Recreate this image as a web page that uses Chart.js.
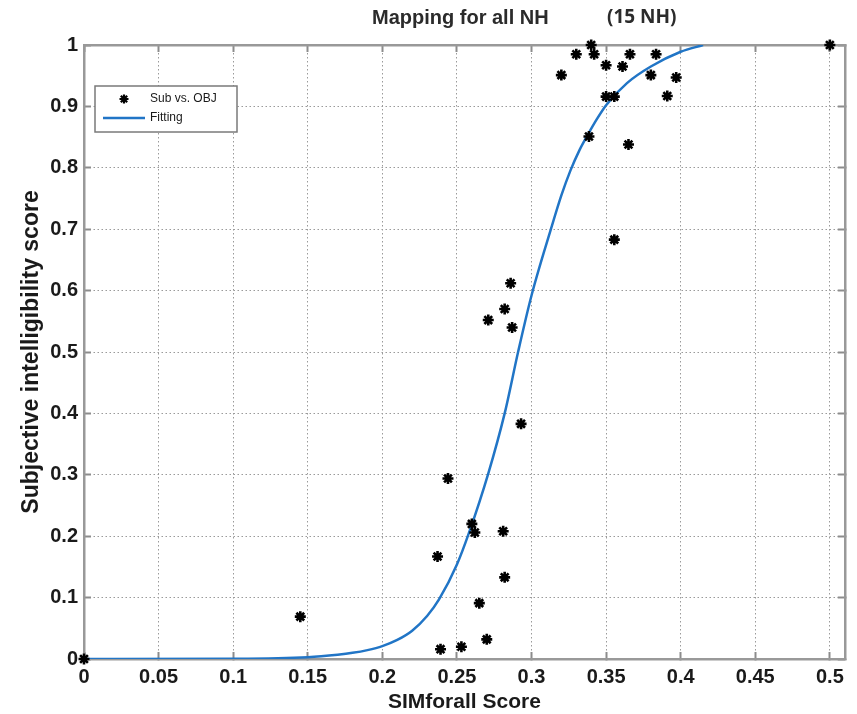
<!DOCTYPE html>
<html lang="en">
<head>
<meta charset="UTF-8">
<title>Mapping for all NH</title>
<script src="https://cdn.jsdelivr.net/npm/chart.js"></script>
<style>
  html, body { margin: 0; padding: 0; background: #fff; }
  #wrap { width: 857px; height: 714px; }
</style>
</head>
<body>
<div id="wrap"><canvas id="mapChart" width="857" height="714"></canvas></div>
<script>
// measured points (SIMforall score vs subjective score)
const subX = [0, 0.145, 0.237, 0.239, 0.244, 0.253, 0.260, 0.262, 0.265, 0.270, 0.271,
              0.281, 0.282, 0.282, 0.286, 0.287, 0.293, 0.320, 0.330, 0.3385, 0.340,
              0.342, 0.350, 0.350, 0.3555, 0.3555, 0.361, 0.365, 0.366, 0.380, 0.3835,
              0.391, 0.397, 0.5];
const subY = [0, 0.069, 0.167, 0.016, 0.294, 0.020, 0.220, 0.206, 0.091, 0.032, 0.552,
              0.208, 0.133, 0.570, 0.612, 0.540, 0.383, 0.951, 0.985, 0.851, 1.0,
              0.985, 0.967, 0.916, 0.916, 0.683, 0.965, 0.838, 0.985, 0.951, 0.985,
              0.917, 0.947, 1.0];

// fitted curve
const fitX = [0, 0.10, 0.15, 0.17, 0.18, 0.19, 0.20, 0.21, 0.22, 0.23, 0.238, 0.25,
              0.258, 0.271, 0.282, 0.291, 0.300, 0.313, 0.320, 0.326, 0.332, 0.338,
              0.344, 0.350, 0.364, 0.380, 0.400, 0.415];
const fitY = [0, 0.0005, 0.003, 0.007, 0.010, 0.0145, 0.021, 0.031, 0.046, 0.070, 0.097, 0.154,
              0.205, 0.302, 0.400, 0.500, 0.592, 0.700, 0.755, 0.795, 0.828, 0.855,
              0.880, 0.902, 0.938, 0.965, 0.989, 1.0];

const xTicks = [0, 0.05, 0.1, 0.15, 0.2, 0.25, 0.3, 0.35, 0.4, 0.45, 0.5];
const yTicks = [0, 0.1, 0.2, 0.3, 0.4, 0.5, 0.6, 0.7, 0.8, 0.9, 1];

const titleMain = 'Mapping for all NH';
const titleNote = '(15 NH)';

const FONT = "'Liberation Sans', Arial, sans-serif";
const axisGrey = '#999';
const gridGrey = '#9a9a9a';
const textCol = '#1a1a1a';

function setTicks(list) {
    return scale => { scale.ticks = list.map(v => ({ value: v })); };
}

// title in two pieces, like the original figure
const twoPartTitle = {
    id: 'twoPartTitle',
    afterDraw(chart) {
        const { ctx, chartArea } = chart;
        ctx.save();
        ctx.textBaseline = 'middle';
        ctx.textAlign = 'left';
        ctx.fillStyle = '#2b2b2b';
        ctx.font = 'bold 20px ' + FONT;
        ctx.fillText(titleMain, chartArea.left + 288, 18);
        ctx.font = "bold 19px 'Open Sans', sans-serif";
        ctx.fillText(titleNote, chartArea.left + 523, 18);
        ctx.restore();
    }
};

// boxed legend inside the plot, upper left
const boxLegend = {
    id: 'boxLegend',
    afterDraw(chart) {
        const { ctx, chartArea } = chart;
        const sets = chart.data.datasets;
        const x = chartArea.left + 11, y = chartArea.top + 41, w = 142, h = 46;
        ctx.save();
        ctx.fillStyle = '#fff';
        ctx.fillRect(x, y, w, h);
        ctx.strokeStyle = '#7a7a7a';
        ctx.lineWidth = 1.5;
        ctx.strokeRect(x, y, w, h);

        ctx.strokeStyle = sets[0].borderColor;
        ctx.fillStyle = sets[0].borderColor;
        ctx.lineWidth = 2.2;
        Chart.helpers.drawPoint(ctx, { pointStyle: 'star', radius: 4.5, borderWidth: 2.2, rotation: 0 }, x + 29, y + 13);

        ctx.strokeStyle = sets[1].borderColor;
        ctx.lineWidth = 2.5;
        ctx.beginPath();
        ctx.moveTo(x + 8, y + 32);
        ctx.lineTo(x + 50, y + 32);
        ctx.stroke();

        ctx.fillStyle = textCol;
        ctx.font = '12px ' + FONT;
        ctx.textBaseline = 'middle';
        ctx.fillText(sets[0].label, x + 55, y + 13);
        ctx.fillText(sets[1].label, x + 55, y + 32);
        ctx.restore();
    }
};

const tickFont = { family: FONT, size: 20, weight: 'bold' };
const gridOpts = { color: gridGrey, lineWidth: 1, tickLength: -7, tickColor: '#8c8c8c', tickWidth: 2 };
const borderOpts = { display: true, color: axisGrey, width: 2.5, dash: [1.5, 2.5] };

new Chart(document.getElementById('mapChart'), {
    type: 'scatter',
    data: {
        datasets: [
            {
                label: 'Sub vs. OBJ',
                data: subX.map((x, i) => ({ x: x, y: subY[i] })),
                pointStyle: 'star',
                pointRadius: 5.5,
                pointHoverRadius: 5.5,
                pointBorderWidth: 2.6,
                borderColor: '#000',
                backgroundColor: '#000',
                showLine: false,
                clip: false
            },
            {
                label: 'Fitting',
                data: fitX.map((x, i) => ({ x: x, y: fitY[i] })),
                showLine: true,
                borderColor: '#2175c6',
                borderWidth: 2.5,
                pointRadius: 0,
                pointHoverRadius: 0,
                cubicInterpolationMode: 'monotone',
                fill: false
            }
        ]
    },
    options: {
        responsive: false,
        animation: false,
        layout: { padding: { top: 45, left: 0, right: 0, bottom: 0 } },
        plugins: {
            legend: { display: false },
            title: { display: false },
            tooltip: { enabled: false }
        },
        scales: {
            x: {
                type: 'linear',
                position: 'bottom',
                min: 0,
                max: 0.51,
                afterBuildTicks: setTicks(xTicks),
                afterFit: s => { s.height = 55; },
                grid: gridOpts,
                border: borderOpts,
                ticks: {
                    padding: 13, color: textCol, font: tickFont,
                    maxRotation: 0, autoSkip: false,
                    callback: v => String(v)
                },
                title: {
                    display: true, text: 'SIMforall Score', color: textCol,
                    font: { family: FONT, size: 21, weight: 'bold', lineHeight: 1 },
                    padding: { top: 0, bottom: 1 }
                }
            },
            y: {
                type: 'linear',
                position: 'left',
                min: 0,
                max: 1,
                afterBuildTicks: setTicks(yTicks),
                afterFit: s => { s.width = 84; },
                grid: gridOpts,
                border: borderOpts,
                ticks: {
                    padding: 13, color: textCol, font: tickFont,
                    callback: v => String(v)
                },
                title: {
                    display: true, text: 'Subjective intelligibility score', color: textCol,
                    font: { family: FONT, size: 23, weight: 'bold', lineHeight: 1 },
                    padding: { top: 20, bottom: 0 }
                }
            },
            x2: {
                type: 'linear',
                position: 'top',
                min: 0,
                max: 0.51,
                afterBuildTicks: setTicks(xTicks),
                afterFit: s => { s.height = 0; },
                ticks: { display: false },
                grid: { drawOnChartArea: false, tickLength: -7, tickColor: '#8c8c8c', tickWidth: 2 },
                border: { display: true, color: axisGrey, width: 2.5 }
            },
            y2: {
                type: 'linear',
                position: 'right',
                min: 0,
                max: 1,
                afterBuildTicks: setTicks(yTicks),
                afterFit: s => { s.width = 8; },
                ticks: { display: false },
                grid: { drawOnChartArea: false, tickLength: -7, tickColor: '#8c8c8c', tickWidth: 2 },
                border: { display: true, color: axisGrey, width: 2.5 }
            }
        }
    },
    plugins: [twoPartTitle, boxLegend]
});
</script>
</body>
</html>
